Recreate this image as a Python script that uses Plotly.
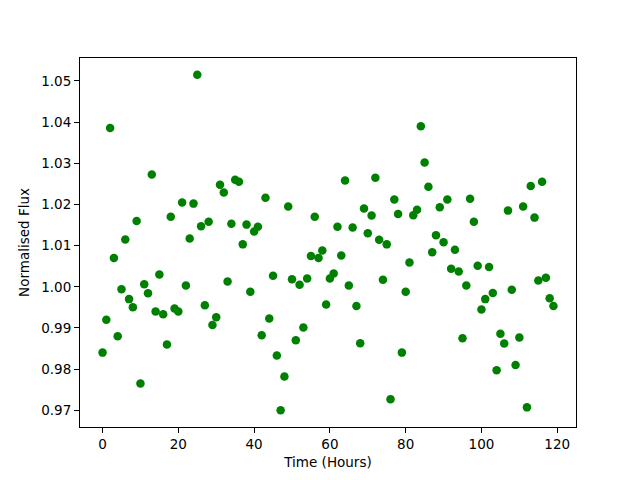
import plotly.graph_objects as go

time_hours = list(range(120))
flux = [
    0.984, 0.992, 1.0386, 1.007, 0.988, 0.9994, 1.0115, 0.997, 0.995, 1.016,
    0.9765, 1.0006, 0.9984, 1.0273, 0.994, 1.003, 0.9933, 0.986, 1.017, 0.9947,
    0.994, 1.0205, 1.0003, 1.0117, 1.0202, 1.0515, 1.0147, 0.9955, 1.0158, 0.9907,
    0.9926, 1.0248, 1.0229, 1.0013, 1.0153, 1.026, 1.0255, 1.0103, 1.0151, 0.9988,
    1.0134, 1.0146, 0.9882, 1.0216, 0.9923, 1.0027, 0.9833, 0.970, 0.9782, 1.0195,
    1.0018, 0.987, 1.0005, 0.9901, 1.002, 1.0075, 1.017, 1.007, 1.0088, 0.9957,
    1.002, 1.0032, 1.0146, 1.0076, 1.0258, 1.0003, 1.0144, 0.9953, 0.9863, 1.019,
    1.013, 1.0173, 1.0265, 1.0114, 1.0017, 1.0103, 0.9727, 1.0212, 1.0177, 0.984,
    0.9988, 1.0059, 1.0174, 1.0187, 1.039, 1.0302, 1.0243, 1.0084, 1.0125, 1.0193,
    1.0108, 1.0212, 1.0044, 1.009, 1.0037, 0.9875, 1.0003, 1.0214, 1.0158, 1.0051,
    0.9945, 0.997, 1.0048, 0.9985, 0.9797, 0.9886, 0.9862, 1.0185, 0.9993, 0.981,
    0.9877, 1.0195, 0.9707, 1.0245, 1.0168, 1.0015, 1.0255, 1.0022, 0.9972, 0.9953,
]
x_ticks = [0, 20, 40, 60, 80, 100, 120]
y_ticks = [0.97, 0.98, 0.99, 1.00, 1.01, 1.02, 1.03, 1.04, 1.05]

fig = go.Figure(go.Scatter(
    x=time_hours, y=flux, mode="markers",
    marker=dict(color="green", size=8.5, line=dict(width=0)),
))

axis_common = dict(
    showline=True, linecolor="black", linewidth=1, mirror=True,
    ticks="outside", ticklen=5, tickwidth=1, tickcolor="black",
    showgrid=False, zeroline=False, automargin=False,
    tickfont=dict(family="DejaVu Sans", size=13.5, color="black"),
)

fig.update_layout(
    width=640, height=480,
    margin=dict(l=72, r=72, t=50, b=61),
    paper_bgcolor="white", plot_bgcolor="white",
    showlegend=False,
    font=dict(family="DejaVu Sans", size=13.5, color="black"),
    xaxis=dict(
        range=[-5.95, 124.95], tickvals=x_ticks,
        title=dict(text="Time (Hours)", standoff=6,
                   font=dict(family="DejaVu Sans", size=13.5)),
        **axis_common,
    ),
    yaxis=dict(
        range=[0.96593, 1.05558], tickvals=y_ticks, tickformat=".2f",
        title=dict(text="Normalised Flux", standoff=8,
                   font=dict(family="DejaVu Sans", size=13.5)),
        **axis_common,
    ),
)

fig.write_html("out.html")
